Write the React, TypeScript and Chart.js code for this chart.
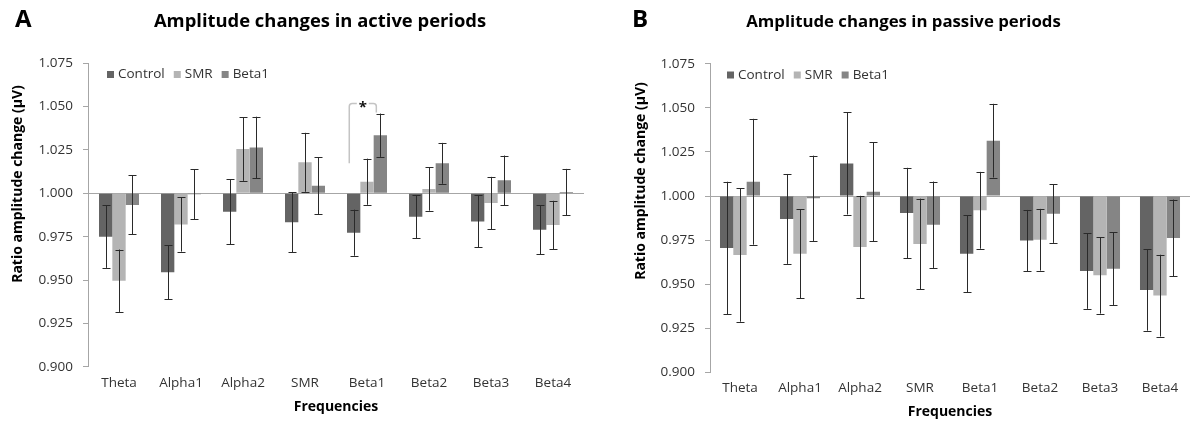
import React, { useEffect, useRef } from 'react';
import { Chart, registerables } from 'chart.js';

Chart.register(...registerables);

// ---------- data ----------
const categories = ['Theta', 'Alpha1', 'Alpha2', 'SMR', 'Beta1', 'Beta2', 'Beta3', 'Beta4'];
const seriesNames = ['Control', 'SMR', 'Beta1'];
const yTickValues = [0.9, 0.925, 0.95, 0.975, 1.0, 1.025, 1.05, 1.075];
const baselineValue = 1.0;

const activeControl = [0.975, 0.9545, 0.9894, 0.9833, 0.9773, 0.9865, 0.9838, 0.979];
const activeControlErr = [0.018, 0.0155, 0.0187, 0.0173, 0.0133, 0.0123, 0.015, 0.014];
const activeSMR = [0.9496, 0.982, 1.0256, 1.0179, 1.0067, 1.0025, 0.9944, 0.9817];
const activeSMRErr = [0.018, 0.0156, 0.0184, 0.017, 0.0133, 0.0125, 0.0151, 0.014];
const activeBeta1 = [0.9933, 0.9995, 1.0265, 1.0044, 1.0335, 1.0173, 1.0075, 1.0007];
const activeBeta1Err = [0.017, 0.0145, 0.0177, 0.0165, 0.0125, 0.0118, 0.0143, 0.0134];

const passiveControl = [0.9705, 0.987, 1.0185, 0.9904, 0.9673, 0.9747, 0.9575, 0.9467];
const passiveControlErr = [0.0376, 0.0255, 0.029, 0.0256, 0.0219, 0.0174, 0.0215, 0.0231];
const passiveSMR = [0.9665, 0.9673, 0.9711, 0.9728, 0.9919, 0.9752, 0.955, 0.9435];
const passiveSMRErr = [0.0378, 0.0253, 0.029, 0.0257, 0.0218, 0.0175, 0.0217, 0.0232];
const passiveBeta1 = [1.0081, 0.9987, 1.0024, 0.9837, 1.0314, 0.99, 0.9588, 0.9762];
const passiveBeta1Err = [0.0357, 0.0242, 0.028, 0.0245, 0.0209, 0.0166, 0.0206, 0.0218];

// significance marker (panel A): Control vs Beta1 in the Beta1 band
const sigCategory = 'Beta1';
const sigFrom = 'Control';
const sigTo = 'Beta1';
const sigLabel = '*';

// ---------- style ----------
const FONT = '"Open Sans", "DejaVu Sans", sans-serif';
const seriesColors = ['#646464', '#b4b4b4', '#858585'];
const axisColor = '#a6a6a6';
const textColor = '#333333';

type PanelCfg = {
  letter: string;
  title: string;
  values: number[][];
  errors: number[][];
  left: number;
  width: number;
  padTop: number;
  plotBottom: number;
  yAxisWidth: number;
  padRight: number;
  catPct: number;
  titleX: number;
  titleSize: number;
  letterX: number;
  yTitleX: number;
  yTitleY: number;
  xTitlePadBottom: number;
  legendDx: number;
  legendY: number;
  showSig: boolean;
};

const H = 421;

const panels: PanelCfg[] = [
  {
    letter: 'A',
    title: 'Amplitude changes in active periods',
    values: [activeControl, activeSMR, activeBeta1],
    errors: [activeControlErr, activeSMRErr, activeBeta1Err],
    left: 0,
    width: 600,
    padTop: 63.3,
    plotBottom: 366.7,
    yAxisWidth: 88,
    padRight: 16,
    catPct: 0.645,
    titleX: 320,
    titleSize: 18.4,
    letterX: 15,
    yTitleX: 18,
    yTitleY: 184,
    xTitlePadBottom: 5.6,
    legendDx: 19,
    legendY: 74.5,
    showSig: true,
  },
  {
    letter: 'B',
    title: 'Amplitude changes in passive periods',
    values: [passiveControl, passiveSMR, passiveBeta1],
    errors: [passiveControlErr, passiveSMRErr, passiveBeta1Err],
    left: 600,
    width: 591,
    padTop: 63.8,
    plotBottom: 372.3,
    yAxisWidth: 110,
    padRight: 1,
    catPct: 0.667,
    titleX: 303.5,
    titleSize: 16.8,
    letterX: 32,
    yTitleX: 41,
    yTitleY: 181,
    xTitlePadBottom: 1,
    legendDx: 17,
    legendY: 75,
    showSig: false,
  },
];

function makeDecorPlugin(cfg: PanelCfg) {
  return {
    id: 'decor' + cfg.letter,
    afterDatasetsDraw(chart: any) {
      const ctx = chart.ctx as CanvasRenderingContext2D;
      const y = chart.scales.y;
      // error bars
      ctx.save();
      ctx.strokeStyle = '#2a2a2a';
      ctx.lineWidth = 1;
      cfg.values.forEach((vals, di) => {
        const meta = chart.getDatasetMeta(di);
        vals.forEach((v, i) => {
          const el = meta.data[i];
          if (!el) return;
          const e = cfg.errors[di][i];
          const x = Math.round(el.x) + 0.5;
          const yt = y.getPixelForValue(v + e);
          const yb = y.getPixelForValue(v - e);
          ctx.beginPath();
          ctx.moveTo(x, yt);
          ctx.lineTo(x, yb);
          ctx.moveTo(x - 4, Math.round(yt) + 0.5);
          ctx.lineTo(x + 4, Math.round(yt) + 0.5);
          ctx.moveTo(x - 4, Math.round(yb) + 0.5);
          ctx.lineTo(x + 4, Math.round(yb) + 0.5);
          ctx.stroke();
        });
      });
      ctx.restore();

      // significance bracket
      if (cfg.showSig) {
        const ci = categories.indexOf(sigCategory);
        const a = chart.getDatasetMeta(seriesNames.indexOf(sigFrom)).data[ci];
        const bIdx = seriesNames.indexOf(sigTo);
        const b = chart.getDatasetMeta(bIdx).data[ci];
        const bv = cfg.values[bIdx][ci] + cfg.errors[bIdx][ci];
        const xl = a.x - a.width * 0.33;
        const xr = b.x - b.width * 0.3;
        const yTop = y.getPixelForValue(bv) - 10;
        const yl = y.getPixelForValue(cfg.values[0][ci] + 0.04);
        const yr = y.getPixelForValue(bv) - 1;
        const xm = (xl + xr) / 2;
        ctx.save();
        ctx.strokeStyle = '#c4c4c4';
        ctx.lineWidth = 1.5;
        ctx.lineJoin = 'round';
        ctx.beginPath();
        ctx.moveTo(xl, yl);
        ctx.arcTo(xl, yTop, xl + 3, yTop, 3);
        ctx.lineTo(xm - 6, yTop);
        ctx.moveTo(xm + 6, yTop);
        ctx.arcTo(xr, yTop, xr, yTop + 3, 3);
        ctx.lineTo(xr, yr);
        ctx.stroke();
        ctx.fillStyle = '#111';
        ctx.font = `bold 15px ${FONT}`;
        ctx.textAlign = 'center';
        ctx.textBaseline = 'alphabetic';
        ctx.fillText(sigLabel, xm, yTop + 8);
        ctx.restore();
      }
    },
    afterDraw(chart: any) {
      const ctx = chart.ctx as CanvasRenderingContext2D;
      const area = chart.chartArea;
      ctx.save();
      // panel letter
      ctx.fillStyle = '#000';
      ctx.textBaseline = 'alphabetic';
      ctx.textAlign = 'left';
      ctx.font = `bold 24px ${FONT}`;
      ctx.fillText(cfg.letter, cfg.letterX, 27);
      // title
      ctx.textAlign = 'center';
      ctx.font = `bold ${cfg.titleSize}px ${FONT}`;
      ctx.fillText(cfg.title, cfg.titleX, 27);
      // y title
      ctx.save();
      ctx.translate(cfg.yTitleX, cfg.yTitleY);
      ctx.rotate(-Math.PI / 2);
      ctx.textAlign = 'center';
      ctx.textBaseline = 'middle';
      ctx.font = `bold 14px ${FONT}`;
      ctx.fillText('Ratio amplitude change (µV)', 0, 0);
      ctx.restore();
      // legend
      ctx.font = `13.5px ${FONT}`;
      ctx.textAlign = 'left';
      ctx.textBaseline = 'middle';
      let lx = area.left + cfg.legendDx;
      chart.data.datasets.forEach((ds: any) => {
        ctx.fillStyle = ds.backgroundColor;
        ctx.fillRect(lx, cfg.legendY - 3.5, 7, 7);
        lx += 11;
        ctx.fillStyle = textColor;
        ctx.fillText(ds.label, lx, cfg.legendY);
        lx += ctx.measureText(ds.label).width + 9;
      });
      ctx.restore();
    },
  };
}

function Panel({ cfg }: { cfg: PanelCfg }) {
  const ref = useRef<HTMLCanvasElement | null>(null);
  useEffect(() => {
    let chart: Chart | null = null;
    let cancelled = false;
    const build = () => {
      if (cancelled || !ref.current) return;
      chart = new Chart(ref.current, {
        type: 'bar',
        data: {
          labels: categories,
          datasets: seriesNames.map((name, i) => ({
            label: name,
            data: cfg.values[i],
            backgroundColor: seriesColors[i],
            borderWidth: 0,
            base: baselineValue,
            categoryPercentage: cfg.catPct,
            barPercentage: 1,
          })) as any,
        },
        options: {
          animation: false,
          responsive: false,
          maintainAspectRatio: false,
          devicePixelRatio: 1,
          layout: { padding: { top: cfg.padTop, right: cfg.padRight, left: 0, bottom: 0 } },
          plugins: {
            legend: { display: false },
            title: { display: false },
            tooltip: { enabled: false },
          },
          scales: {
            x: {
              type: 'category',
              grid: { display: false, drawTicks: false },
              border: { display: false },
              ticks: {
                color: textColor,
                font: { family: FONT, size: 13.5 },
                padding: 8,
                maxRotation: 0,
                autoSkip: false,
              },
              title: {
                display: true,
                text: 'Frequencies',
                color: '#000',
                font: { family: FONT, size: 14, weight: 'bold' },
                padding: { top: 0, bottom: cfg.xTitlePadBottom },
              },
              afterFit: (s: any) => {
                s.height = H - cfg.plotBottom;
              },
            },
            y: {
              min: yTickValues[0],
              max: yTickValues[yTickValues.length - 1],
              afterBuildTicks: (s: any) => {
                s.ticks = yTickValues.map((v) => ({ value: v }));
              },
              afterFit: (s: any) => {
                s.width = cfg.yAxisWidth;
              },
              grid: {
                display: true,
                drawOnChartArea: true,
                drawTicks: true,
                tickLength: 5,
                tickColor: axisColor,
                color: (c: any) => (c.tick && Math.abs(c.tick.value - baselineValue) < 1e-9 ? axisColor : 'rgba(0,0,0,0)'),
                lineWidth: 1,
              },
              border: { display: true, color: axisColor, width: 1 },
              ticks: {
                color: textColor,
                font: { family: FONT, size: 13.5 },
                padding: 10,
                callback: (v: any) => Number(v).toFixed(3),
              },
            },
          },
        } as any,
        plugins: [makeDecorPlugin(cfg)],
      });
    };
    const fonts: any = (document as any).fonts;
    if (fonts && fonts.load) {
      Promise.all([
        fonts.load(`13.5px "Open Sans"`),
        fonts.load(`bold 14px "Open Sans"`),
      ])
        .catch(() => null)
        .then(build);
    } else {
      build();
    }
    return () => {
      cancelled = true;
      if (chart) chart.destroy();
    };
  }, [cfg]);
  return (
    <canvas
      ref={ref}
      width={cfg.width}
      height={H}
      style={{ position: 'absolute', left: cfg.left, top: 0, width: cfg.width, height: H }}
    />
  );
}

export default function App() {
  return (
    <div style={{ position: 'absolute', left: 0, top: 0, width: 1191, height: H, background: '#fff', overflow: 'hidden' }}>
      {panels.map((p) => (
        <Panel key={p.letter} cfg={p} />
      ))}
    </div>
  );
}
